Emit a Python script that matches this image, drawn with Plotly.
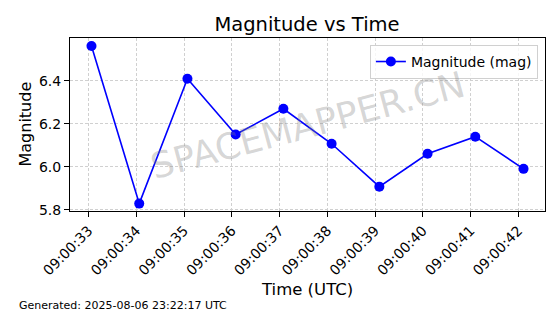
import plotly.graph_objects as go

times = ["2025-08-06 09:00:33.06", "2025-08-06 09:00:34.06", "2025-08-06 09:00:35.07",
         "2025-08-06 09:00:36.08", "2025-08-06 09:00:37.08", "2025-08-06 09:00:38.09",
         "2025-08-06 09:00:39.09", "2025-08-06 09:00:40.10", "2025-08-06 09:00:41.10",
         "2025-08-06 09:00:42.11"]
magnitudes = [6.563, 5.828, 6.41, 6.15, 6.27, 6.107, 5.907, 6.06, 6.14, 5.99]
tick_vals = ["2025-08-06 09:00:33", "2025-08-06 09:00:34", "2025-08-06 09:00:35",
             "2025-08-06 09:00:36", "2025-08-06 09:00:37", "2025-08-06 09:00:38",
             "2025-08-06 09:00:39", "2025-08-06 09:00:40", "2025-08-06 09:00:41",
             "2025-08-06 09:00:42"]
tick_text = ["09:00:33", "09:00:34", "09:00:35", "09:00:36", "09:00:37",
             "09:00:38", "09:00:39", "09:00:40", "09:00:41", "09:00:42"]
y_ticks = [5.8, 6.0, 6.2, 6.4]

FONT = "DejaVu Sans"

fig = go.Figure()
fig.add_trace(go.Scatter(
    x=times, y=magnitudes, mode="lines+markers", name="Magnitude (mag)",
    line=dict(color="#0000ff", width=1.6),
    marker=dict(color="#0000ff", size=10),
))

fig.update_layout(
    width=560, height=314,
    margin=dict(l=70, r=15, t=38, b=103),
    paper_bgcolor="white", plot_bgcolor="white",
    font=dict(family=FONT, color="black", size=14),
    title=dict(text="Magnitude vs Time", x=307/560, xanchor="center",
               y=1 - 24/314, yanchor="middle", yref="container",
               font=dict(size=19.5, family=FONT, color="black")),
    showlegend=True,
    legend=dict(x=0.985, y=0.96, xanchor="right", yanchor="top",
                bgcolor="rgba(255,255,255,0.8)", bordercolor="#d0d0d0", borderwidth=1,
                itemwidth=30, tracegroupgap=0,
                font=dict(size=14, family=FONT)),
    xaxis=dict(
        type="date",
        range=["2025-08-06 09:00:32.61", "2025-08-06 09:00:42.56"],
        tickvals=tick_vals, ticktext=tick_text, tickangle=-45,
        showgrid=True, gridcolor="#d0d0d0", griddash="3px,2px", gridwidth=1,
        showline=True, linecolor="black", linewidth=1, mirror=True,
        ticks="outside", ticklen=5, tickcolor="black",
        zeroline=False, tickfont=dict(size=14),
    ),
    yaxis=dict(
        range=[5.7935, 6.6],
        tickvals=y_ticks, ticktext=["5.8", "6.0", "6.2", "6.4"],
        showgrid=True, gridcolor="#d0d0d0", griddash="3px,2px", gridwidth=1,
        showline=True, linecolor="black", linewidth=1, mirror=True,
        ticks="outside", ticklen=5, tickcolor="black",
        zeroline=False, tickfont=dict(size=14),
    ),
    annotations=[
        dict(text="Magnitude", xref="paper", yref="paper", x=-45/475, y=0.5,
             xanchor="center", yanchor="middle", textangle=-90, showarrow=False,
             font=dict(size=16, family=FONT)),
        dict(text="Time (UTC)", xref="paper", yref="paper", x=(307-70)/475, y=-(289-211)/173,
             xanchor="center", yanchor="middle", showarrow=False,
             font=dict(size=16.5, family=FONT)),
        dict(text="Generated: 2025-08-06 23:22:17 UTC", xref="paper", yref="paper",
             x=-53/475, y=-(305-211)/173, xanchor="left", yanchor="middle", showarrow=False,
             font=dict(size=11, family=FONT)),
        dict(text="SPACEMAPPER.CN", xref="paper", yref="paper", x=(307-70)/475, y=(211-125)/173,
             xanchor="center", yanchor="middle", textangle=-15, showarrow=False,
             font=dict(size=36, family=FONT, color="rgba(128,128,128,0.33)")),
    ],
)

fig.write_html("out.html")
